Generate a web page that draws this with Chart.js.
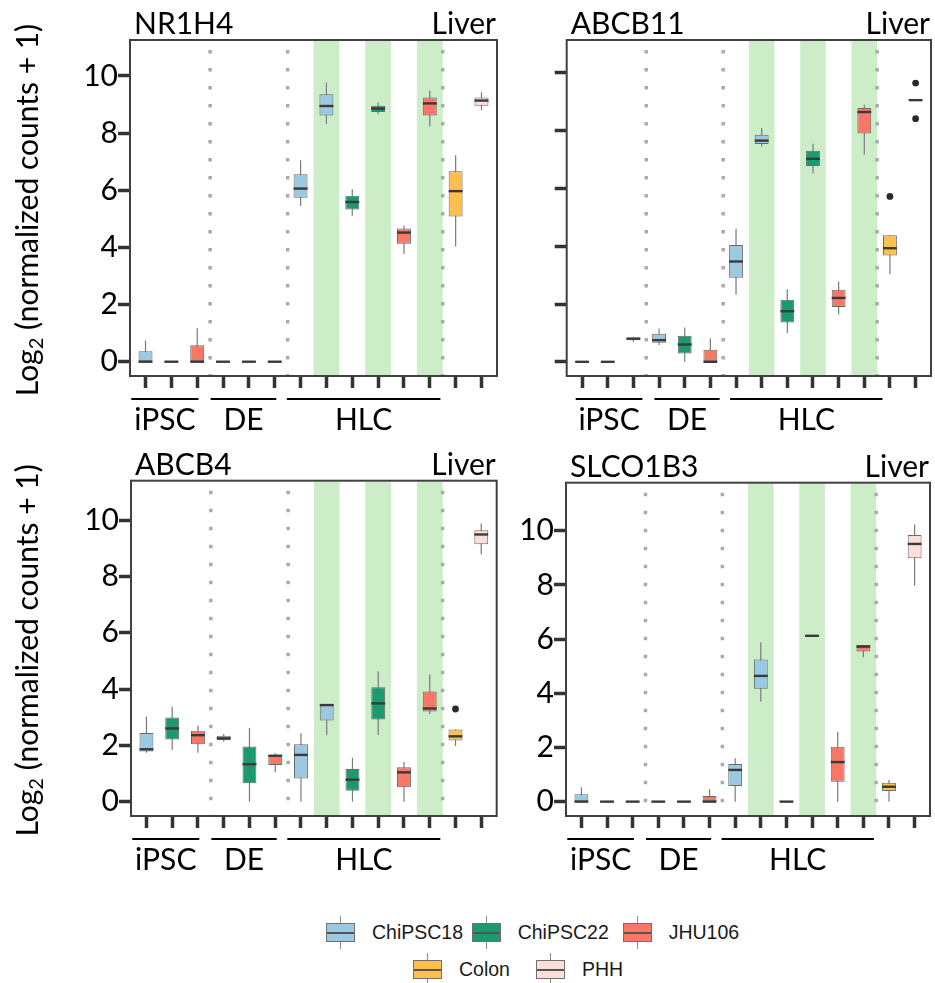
<!DOCTYPE html>
<html>
<head>
<meta charset="utf-8">
<title>Bile acid transporter expression</title>
<script src="https://cdn.jsdelivr.net/npm/chart.js@4.4.0/dist/chart.umd.min.js"></script>
<style>
  html, body { margin: 0; padding: 0; background: #fff; }
  #page { position: relative; width: 935px; height: 983px; overflow: hidden; }
  #page canvas { position: absolute; }
  .legend-item { position: absolute; height: 34px; font-family: "Liberation Sans", Arial, sans-serif; font-size: 19.5px; color: #1a1a1a; }
  .key { position: absolute; left: 0; top: 0; width: 29px; height: 33px; }
  .key .wh { position: absolute; left: 14px; top: 0; width: 1px; height: 33px; background: #8a8a8a; }
  .key .bx { position: absolute; left: 0; top: 7px; width: 27px; height: 17px; border: 1px solid #707070; }
  .key .md { position: absolute; left: 0; right: 0; top: 7.5px; height: 2px; background: #555; }
  .legend-item .lbl { position: absolute; left: 46px; top: 6px; line-height: 20px; white-space: nowrap; }
</style>
</head>
<body>
<div id="page">
  <canvas id="nr1h4" width="515" height="440" style="left:0;top:0;width:515px;height:440px"></canvas>
  <canvas id="abcb11" width="420" height="440" style="left:515px;top:0;width:420px;height:440px"></canvas>
  <canvas id="abcb4" width="515" height="460" style="left:0;top:440px;width:515px;height:460px"></canvas>
  <canvas id="slco1b3" width="420" height="460" style="left:515px;top:440px;width:420px;height:460px"></canvas>
  <div id="legend"></div>
</div>
<script>
// sample order along the x axis
const categories = ["ChiPSC18", "ChiPSC22", "JHU106", "ChiPSC18", "ChiPSC22", "JHU106",
  "ChiPSC18", "ChiPSC18", "ChiPSC22", "ChiPSC22", "JHU106", "JHU106", "Colon", "PHH"]
const stages = ["iPSC", "iPSC", "iPSC", "DE", "DE", "DE",
  "HLC", "HLC", "HLC", "HLC", "HLC", "HLC", "Liver", "Liver"]
const shaded = [7, 9, 11]
const yTicks = [0, 2, 4, 6, 8, 10]

// NR1H4
const nr1h4Low = [0, 0, 0, 0, 0, 0, 5.45, 8.32, 5.11, 8.66, 3.77, 8.23, 4.03, 8.81]
const nr1h4Q1 = [0, 0, 0, 0, 0, 0, 5.74, 8.62, 5.33, 8.74, 4.13, 8.62, 5.08, 8.96]
const nr1h4Med = [0, 0, 0, 0, 0, 0, 6.06, 8.95, 5.59, 8.86, 4.52, 9.04, 5.97, 9.14]
const nr1h4Q3 = [0.37, 0, 0.58, 0, 0, 0, 6.56, 9.36, 5.81, 8.96, 4.66, 9.25, 6.67, 9.25]
const nr1h4High = [0.74, 0, 1.17, 0, 0, 0, 7.05, 9.77, 6.04, 9.07, 4.77, 9.49, 7.23, 9.43]

// ABCB11
const abcb11Low = [0, 0, 0.69, 0.58, 0, 0, 2.33, 7.45, 1.0, 6.52, 1.64, 7.17, 3.03, 9.05]
const abcb11Q1 = [0, 0, 0.75, 0.66, 0.29, 0, 2.91, 7.53, 1.36, 6.77, 1.9, 7.9, 3.68, 9.05]
const abcb11Med = [0, 0, 0.8, 0.75, 0.6, 0, 3.47, 7.65, 1.75, 7.02, 2.21, 8.64, 3.93, 9.05]
const abcb11Q3 = [0, 0, 0.84, 0.97, 0.9, 0.42, 4.04, 7.85, 2.15, 7.3, 2.49, 8.78, 4.38, 9.05]
const abcb11High = [0, 0, 0.84, 1.15, 1.19, 0.81, 4.6, 8.09, 2.51, 7.54, 2.78, 8.89, 4.38, 9.05]
const abcb11OutX = [12, 13, 13]
const abcb11OutY = [5.72, 9.64, 8.41]

// ABCB4
const abcb4Low = [1.74, 1.83, 1.74, 2.13, 0, 1.04, 0, 2.36, 0, 2.37, 0, 3.11, 1.98, 8.78]
const abcb4Q1 = [1.78, 2.21, 2.04, 2.19, 0.65, 1.3, 0.82, 2.88, 0.39, 2.92, 0.51, 3.2, 2.17, 9.14]
const abcb4Med = [1.86, 2.6, 2.36, 2.25, 1.33, 1.63, 1.66, 3.43, 0.78, 3.49, 1.04, 3.31, 2.32, 9.49]
const abcb4Q3 = [2.44, 2.99, 2.52, 2.34, 1.96, 1.66, 2.04, 3.47, 1.16, 4.06, 1.22, 3.91, 2.56, 9.64]
const abcb4High = [3.02, 3.37, 2.7, 2.4, 2.62, 1.72, 2.43, 3.47, 1.56, 4.62, 1.41, 4.52, 2.56, 9.88]
const abcb4OutX = [12]
const abcb4OutY = [3.29]

// SLCO1B3
const slco1b3Low = [0, 0, 0, 0, 0, 0, 0, 3.69, 0, 6.09, 0, 5.33, 0, 7.97]
const slco1b3Q1 = [0, 0, 0, 0, 0, 0, 0.58, 4.17, 0, 6.09, 0.73, 5.54, 0.39, 8.98]
const slco1b3Med = [0, 0, 0, 0, 0, 0, 1.17, 4.64, 0, 6.12, 1.46, 5.72, 0.55, 9.51]
const slco1b3Q3 = [0.27, 0, 0, 0, 0, 0.21, 1.39, 5.25, 0, 6.15, 2.03, 5.78, 0.7, 9.84]
const slco1b3High = [0.53, 0, 0, 0, 0, 0.46, 1.6, 5.87, 0, 6.15, 2.58, 5.78, 0.8, 10.23]

const fills = {
  ChiPSC18: "#9cc9e2",
  ChiPSC22: "#1b9a6f",
  JHU106: "#fa7666",
  Colon: "#fdc04c",
  PHH: "#fddedb",
}

const FONT = "Lato, 'Open Sans', sans-serif"
const groupLabels = ["iPSC", "DE", "HLC"]
const groupSpans = [[-0.55, 2.05], [2.52, 5.06], [5.47, 11.41]]

// stage boundaries get a dotted divider
const dividers = []
for (let i = 1; i < stages.length; i++) {
  if (stages[i] !== stages[i - 1]) dividers.push(i - 0.5)
}

// shading, dividers, whiskers, medians and panel text
const panelDecor = {
  id: "panel",
  beforeDatasetsDraw(chart) {
    const { ctx, chartArea: a, scales: { x, y } } = chart
    ctx.save()
    ctx.fillStyle = "#cdedc9"
    shaded.forEach((i) => {
      const l = x.getPixelForValue(i - 0.5)
      const r = x.getPixelForValue(i + 0.5)
      ctx.fillRect(l, a.top + 1, r - l, a.bottom - a.top - 2)
    })

    ctx.strokeStyle = "#ababab"
    ctx.lineWidth = 3.5
    ctx.setLineDash([3.5, 14.5])
    dividers.forEach((v) => {
      const px = x.getPixelForValue(v)
      ctx.beginPath()
      ctx.moveTo(px, a.top + 10)
      ctx.lineTo(px, a.bottom)
      ctx.stroke()
    })
    ctx.setLineDash([])

    const ds = chart.data.datasets[0]
    const meta = chart.getDatasetMeta(0)
    ctx.strokeStyle = "#7a7a7a"
    ctx.lineWidth = 1.2
    meta.data.forEach((bar, i) => {
      if (ds.high[i] === ds.low[i]) return
      ctx.beginPath()
      ctx.moveTo(bar.x, y.getPixelForValue(ds.high[i]))
      ctx.lineTo(bar.x, y.getPixelForValue(ds.low[i]))
      ctx.stroke()
    })
    ctx.restore()
  },
  afterDatasetsDraw(chart) {
    const { ctx, scales: { y } } = chart
    const ds = chart.data.datasets[0]
    const meta = chart.getDatasetMeta(0)
    ctx.save()
    ctx.strokeStyle = "#3a3a3a"
    ctx.lineWidth = 2.4
    meta.data.forEach((bar, i) => {
      const py = y.getPixelForValue(ds.median[i])
      ctx.beginPath()
      ctx.moveTo(bar.x - bar.width / 2, py)
      ctx.lineTo(bar.x + bar.width / 2, py)
      ctx.stroke()
    })
    ctx.restore()
  },
  afterDraw(chart, args, opts) {
    const { ctx, chartArea: a, scales: { x } } = chart
    ctx.save()
    // panel frame
    ctx.strokeStyle = "#404040"
    ctx.lineWidth = 2
    ctx.strokeRect(a.left, a.top, a.right - a.left, a.bottom - a.top)

    // gene name and tissue
    ctx.fillStyle = "#000"
    ctx.font = "30px " + FONT
    ctx.textBaseline = "alphabetic"
    ctx.textAlign = "left"
    ctx.fillText(opts.gene, a.left + 4, a.top - 6)
    ctx.textAlign = "right"
    ctx.fillText("Liver", a.right - 1, a.top - 6)

    // stage brackets under the axis
    ctx.strokeStyle = "#000"
    ctx.lineWidth = 2
    ctx.textAlign = "center"
    groupLabels.forEach((label, k) => {
      const l = x.getPixelForValue(groupSpans[k][0] + opts.shift)
      const r = x.getPixelForValue(groupSpans[k][1] + opts.shift)
      ctx.beginPath()
      ctx.moveTo(l, a.bottom + 23)
      ctx.lineTo(r, a.bottom + 23)
      ctx.stroke()
      ctx.fillText(label, (l + r) / 2, a.bottom + 54)
    })

    if (opts.yTitle) {
      const main = "30px " + FONT
      const sub = "20px " + FONT
      ctx.font = main
      const w1 = ctx.measureText("Log").width
      const w3 = ctx.measureText(" (normalized counts + 1)").width
      ctx.font = sub
      const w2 = ctx.measureText("2").width
      const total = w1 + w2 + w3
      ctx.translate(38, (a.top + a.bottom) / 2 + 2)
      ctx.rotate(-Math.PI / 2)
      ctx.textAlign = "left"
      let cx = -total / 2
      ctx.font = main
      ctx.fillText("Log", cx, 0)
      cx += w1
      ctx.font = sub
      ctx.fillText("2", cx, 5)
      cx += w2
      ctx.font = main
      ctx.fillText(" (normalized counts + 1)", cx, 0)
    }
    ctx.restore()
  },
}

function makePanel(id, gene, low, q1, med, q3, high, outX, outY, frame) {
  const canvas = document.getElementById(id)
  const boxes = categories.map((c, i) => ({ x: i, y: [q1[i], q3[i]] }))
  const outliers = outX.map((v, i) => ({ x: v, y: outY[i] }))

  return new Chart(canvas, {
    type: "bar",
    data: {
      datasets: [
        {
          type: "bar",
          data: boxes,
          low: low,
          median: med,
          high: high,
          backgroundColor: categories.map((c) => fills[c]),
          borderColor: "#6a6a6a",
          borderWidth: 1,
          borderSkipped: false,
          categoryPercentage: 1,
          barPercentage: 0.54,
        },
        {
          type: "scatter",
          data: outliers,
          pointRadius: 3.4,
          pointBackgroundColor: "#2a2a2a",
          pointBorderWidth: 0,
        },
      ],
    },
    options: {
      responsive: false,
      animation: false,
      events: [],
      layout: {
        padding: { left: 0, top: frame.top, right: frame.right, bottom: frame.bottom },
      },
      plugins: {
        legend: { display: false },
        tooltip: { enabled: false },
        panel: { gene: gene, yTitle: frame.yTitle, shift: frame.shift },
      },
      scales: {
        x: {
          type: "linear",
          min: -0.6,
          max: 13.6,
          offset: false,
          afterBuildTicks: (s) => {
            s.ticks = categories.map((c, i) => ({ value: i }))
          },
          afterFit: (s) => {
            s.height = 20
          },
          ticks: { display: false, autoSkip: false },
          grid: { offset: false, drawOnChartArea: false, tickLength: 12, tickWidth: 3.5, tickColor: "#333" },
          border: { display: false },
        },
        y: {
          type: "linear",
          min: frame.yMin,
          max: frame.yMax,
          afterBuildTicks: (s) => {
            s.ticks = yTicks.map((v) => ({ value: v }))
          },
          afterFit: (s) => {
            s.width = frame.axisWidth
          },
          ticks: {
            display: frame.yLabels,
            padding: 0,
            color: "#000",
            font: { family: FONT, size: 30 },
          },
          grid: { drawOnChartArea: false, tickLength: 12, tickWidth: 3.5, tickColor: "#333" },
          border: { display: false },
        },
      },
    },
    plugins: [panelDecor],
  })
}

makePanel("nr1h4", "NR1H4", nr1h4Low, nr1h4Q1, nr1h4Med, nr1h4Q3, nr1h4High, [], [], {
  top: 40, right: 18, bottom: 44, axisWidth: 130, yMin: -0.5, yMax: 11.26, yLabels: true, yTitle: true, shift: 0,
})
makePanel("abcb11", "ABCB11", abcb11Low, abcb11Q1, abcb11Med, abcb11Q3, abcb11High, abcb11OutX, abcb11OutY, {
  top: 40, right: 1.7, bottom: 44, axisWidth: 51.7, yMin: -0.49, yMax: 11.13, yLabels: false, yTitle: false, shift: 0.3,
})
makePanel("abcb4", "ABCB4", abcb4Low, abcb4Q1, abcb4Med, abcb4Q3, abcb4High, abcb4OutX, abcb4OutY, {
  top: 40.7, right: 18.3, bottom: 64, axisWidth: 131, yMin: -0.51, yMax: 11.4, yLabels: true, yTitle: true, shift: 0,
})
makePanel("slco1b3", "SLCO1B3", slco1b3Low, slco1b3Q1, slco1b3Med, slco1b3Q3, slco1b3High, [], [], {
  top: 42.7, right: 5, bottom: 64, axisWidth: 51, yMin: -0.53, yMax: 11.77, yLabels: true, yTitle: false, shift: 0,
})

// shared legend
const legendItems = [
  { name: "ChiPSC18", left: 326, top: 916 },
  { name: "ChiPSC22", left: 471.7, top: 916 },
  { name: "JHU106", left: 622.7, top: 916 },
  { name: "Colon", left: 413, top: 953 },
  { name: "PHH", left: 536, top: 953 },
]
const legend = document.getElementById("legend")
legendItems.forEach((item) => {
  const el = document.createElement("div")
  el.className = "legend-item"
  el.style.left = item.left + "px"
  el.style.top = item.top + "px"
  el.innerHTML =
    '<span class="key"><i class="wh"></i><i class="bx" style="background:' + fills[item.name] + '"><i class="md"></i></i></span>' +
    '<span class="lbl">' + item.name + "</span>"
  legend.appendChild(el)
})
</script>
</body>
</html>
